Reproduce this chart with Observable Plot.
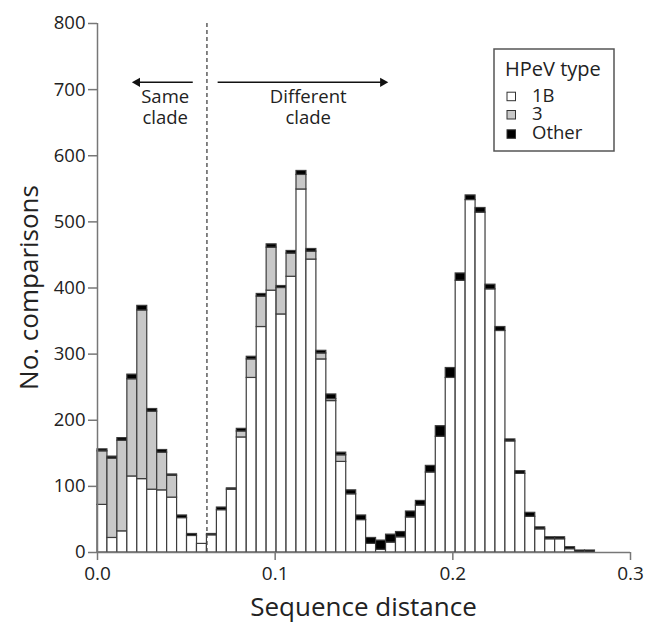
<!DOCTYPE html>
<html><head><meta charset="utf-8">
<script src="https://cdn.jsdelivr.net/npm/d3@7"></script>
<script src="https://cdn.jsdelivr.net/npm/@observablehq/plot@0.6"></script>
<style>body{margin:0;background:#fff} #chart svg{display:block}</style>
</head><body><div id="chart"></div>
<script>
// Bin starts (sequence distance), bin width 0.0056
const binStart = [
  0.0000,0.0056,0.0112,0.0168,0.0224,0.0280,0.0336,0.0392,0.0448,0.0504,
  0.0560,0.0616,0.0672,0.0728,0.0784,0.0840,0.0896,0.0952,0.1008,0.1064,
  0.1120,0.1176,0.1232,0.1288,0.1344,0.1400,0.1456,0.1512,0.1568,0.1624,
  0.1680,0.1736,0.1792,0.1848,0.1904,0.1960,0.2016,0.2072,0.2128,0.2184,
  0.2240,0.2296,0.2352,0.2408,0.2464,0.2520,0.2576,0.2632,0.2688,0.2744
];
const binWidth = 0.0056;
const types = ["1B", "3", "Other"];
const count1B = [
  72,22,32,115,111,95,94,83,52,25,
  13,26,64,95,174,264,341,396,360,417,
  549,443,292,229,137,88,49,13,4,15,
  23,53,71,121,175,264,411,533,514,398,
  335,168,119,54,35,20,20,5,0,0
];
const count3 = [
  81,120,137,147,255,118,57,33,0,0,
  0,0,0,0,9,28,46,65,40,35,
  22,12,9,3,10,0,0,0,0,0,
  0,0,0,0,0,0,0,0,0,0,
  0,0,0,0,0,0,0,0,0,0
];
const countOther = [
  3,3,4,7,7,4,4,2,4,3,
  0,2,4,2,4,4,4,5,3,4,
  6,4,4,7,4,6,7,9,14,12,
  8,9,7,10,16,15,11,7,7,7,
  6,3,4,6,3,3,3,3,3,3
];
const typeColors = ["#ffffff", "#c8c8c8", "#000000"];
const xTicks = [0, 0.1, 0.2, 0.3];
const yTicks = [0, 100, 200, 300, 400, 500, 600, 700, 800];
const cladeCutoff = 0.0616;

// annotations (data coordinates)
const arrowY = 711;
const arrowShafts = [{x1: 0.0539, x2: 0.0224}, {x1: 0.0679, x2: 0.1606}];
const arrowHeads = [{x: 0.0224, rot: -90}, {x: 0.1606, rot: 90}];
const cladeLabels = [
  {x: 0.0381, y: 688, t: "Same"}, {x: 0.0381, y: 657, t: "clade"},
  {x: 0.1186, y: 688, t: "Different"}, {x: 0.1186, y: 657, t: "clade"}
];

const rows = [];
binStart.forEach((x, i) => {
  [count1B, count3, countOther].forEach((arr, j) => {
    if (arr[i] > 0) rows.push({x1: x, x2: x + binWidth, type: types[j], count: arr[i]});
  });
});

const font = "'Open Sans', sans-serif";
const axisColor = "#777";

const svg = Plot.plot({
  width: 648, height: 627,
  marginLeft: 97, marginRight: 18, marginTop: 23, marginBottom: 75,
  style: {fontFamily: font, background: "white", color: "#222"},
  x: {domain: [0, 0.3]},
  y: {domain: [0, 800]},
  color: {domain: types, range: typeColors},
  marks: [
    Plot.rectY(rows, Plot.stackY({x1: "x1", x2: "x2", y: "count", fill: "type", order: types,
      stroke: "#3c3c3c", strokeWidth: 1.2})),
    Plot.ruleX([cladeCutoff], {stroke: "#444", strokeDasharray: "4,3", strokeWidth: 1.3}),
    Plot.axisY({ticks: yTicks, tickSize: 9, tickPadding: 3, fontSize: 18.5, label: null, stroke: axisColor, strokeWidth: 1.5}),
    Plot.axisX({ticks: xTicks, tickSize: 8, tickPadding: 6, fontSize: 19, tickFormat: d3.format(".1f"), label: null, stroke: axisColor, strokeWidth: 1.5}),
    Plot.ruleX([0], {stroke: axisColor, strokeWidth: 1.5}),
    Plot.ruleY([0], {stroke: axisColor, strokeWidth: 1.5}),
    Plot.ruleY(arrowShafts, {y: () => arrowY, x1: "x1", x2: "x2", stroke: "#111", strokeWidth: 1.5}),
    Plot.dot(arrowHeads, {x: "x", y: () => arrowY, symbol: "triangle", rotate: "rot", r: 3.5, fill: "#111", stroke: null}),
    Plot.text(cladeLabels, {x: "x", y: "y", text: "t", fontSize: 18.5, fill: "#222"})
  ]
});

const s = d3.select(svg);
// axis titles
s.append("text").attr("transform", "translate(29,287.5) rotate(-90)")
  .attr("text-anchor", "middle").attr("dy", "0.35em")
  .attr("font-size", 26).attr("fill", "#222").text("No. comparisons");
s.append("text").attr("x", 363.5).attr("y", 607)
  .attr("text-anchor", "middle").attr("dy", "0.35em")
  .attr("font-size", 26).attr("fill", "#222").text("Sequence distance");

// legend
const lg = s.append("g").attr("text-anchor", "start");
lg.append("rect").attr("x", 494).attr("y", 49).attr("width", 120).attr("height", 102)
  .attr("fill", "white").attr("stroke", "#555").attr("stroke-width", 1.5);
lg.append("text").attr("x", 505).attr("y", 75.5).attr("text-anchor", "start")
  .attr("font-size", 20).attr("fill", "#222").text("HPeV type");
const rowBase = [101.7, 120, 139.3];
types.forEach((t, i) => {
  lg.append("rect").attr("x", 507).attr("y", rowBase[i] - 9.5).attr("width", 8.5).attr("height", 8.5)
    .attr("fill", typeColors[i]).attr("stroke", "#333").attr("stroke-width", 1);
  lg.append("text").attr("x", 532).attr("y", rowBase[i]).attr("text-anchor", "start")
    .attr("font-size", 18.5).attr("fill", "#222").text(t);
});

document.getElementById("chart").appendChild(svg);
</script>
</body></html>
